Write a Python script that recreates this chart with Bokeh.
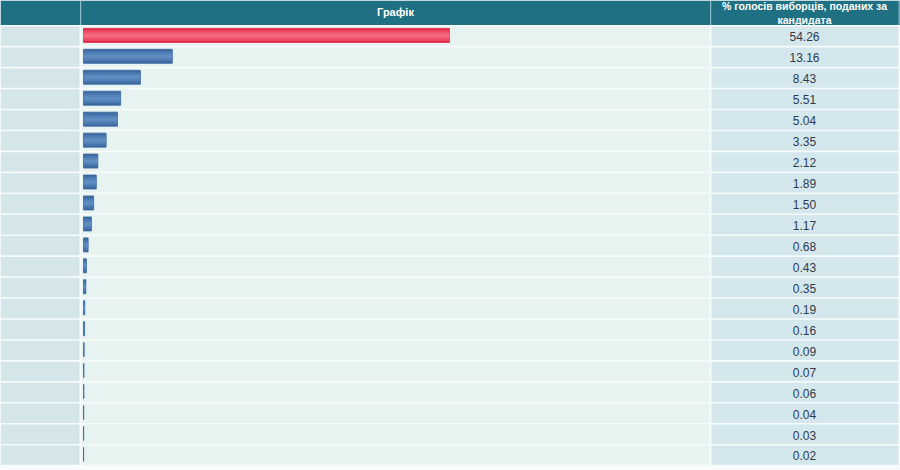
from bokeh.plotting import figure
from bokeh.models import Range1d, ColumnDataSource
from bokeh.core.properties import value
from bokeh.embed import file_html
from bokeh.resources import INLINE

# ---- data ----
percents = [54.26, 13.16, 8.43, 5.51, 5.04, 3.35, 2.12, 1.89, 1.50, 1.17,
            0.68, 0.43, 0.35, 0.19, 0.16, 0.09, 0.07, 0.06, 0.04, 0.03, 0.02]
percent_labels = ["54.26", "13.16", "8.43", "5.51", "5.04", "3.35", "2.12", "1.89",
                  "1.50", "1.17", "0.68", "0.43", "0.35", "0.19", "0.16", "0.09",
                  "0.07", "0.06", "0.04", "0.03", "0.02"]
header_chart = "Графік"
header_pct = ["% голосів виборців, поданих за", "кандидата"]
winner_index = 0

# ---- layout (pixels) ----
W, H = 900, 470
X0 = 83.0            # pixel of bar zero
PX_PER_UNIT = 6.745  # pixels per percentage point
TOP = 26.0           # top of first row
PITCH = 20.95        # row pitch
HEADER_H = 24.5

def dx(px):
    return (px - X0) / PX_PER_UNIT

def dy(px):
    return (px - TOP - PITCH / 2) / PITCH

n = len(percents)
rows = list(range(n))

p = figure(width=W, height=H, output_backend="svg", toolbar_location=None,
           x_range=Range1d(dx(0), dx(W)), y_range=Range1d(dy(H), dy(0)),
           x_axis_location=None, y_axis_location=None, min_border=0)
p.grid.visible = False
p.outline_line_color = None
p.background_fill_color = "#f7fbfb"
p.border_fill_color = "#f7fbfb"

# header
p.quad(left=dx(0), right=dx(W), top=dy(0), bottom=dy(HEADER_H), fill_color="#1f7083", line_color=None)
for xs in (79.5, 709.5, 898):
    p.quad(left=dx(xs), right=dx(xs + 1.2), top=dy(0), bottom=dy(HEADER_H), fill_color="#8fbcc6", line_color=None)

# row cells
gap = 1.6 / PITCH
cols = [(0, 79, "#d5e6eb"), (81, 709, "#e7f3f1"), (711, 898, "#d4e7ec")]
for (l, r, c) in cols:
    p.quad(left=[dx(l)] * n, right=[dx(r)] * n,
           top=[i - 0.5 for i in rows], bottom=[i + 0.5 - gap for i in rows],
           fill_color=c, line_color=None)

# bars with soft gradient bands
bar_off = -1.6 / PITCH
colors_blue = ["#3a679f", "#4775ad", "#5583b9", "#5f8cc1"]
colors_red = ["#e2244a", "#ee4763", "#f25a74", "#f56a82"]
heights = [14 / PITCH, 11 / PITCH, 7 / PITCH, 3 / PITCH]
cols_data = {}
for k in range(4):
    cols_data["c%d" % k] = [colors_red[k] if i == winner_index else colors_blue[k] for i in rows]
src = ColumnDataSource(dict(y=[i + bar_off for i in rows], right=percents, **cols_data))
p.hbar(y="y", left=0, right="right", height=heights[0], fill_color="c0", line_color="c0", line_width=0.8, source=src)
for k in range(1, 4):
    p.hbar(y="y", left=0, right="right", height=heights[k], fill_color="c%d" % k, line_color=None, source=src)

# value labels
p.text(x=[dx(804)] * n, y=rows, text=percent_labels, text_align="center", text_baseline="middle",
       text_font=value("Liberation Sans"), text_font_size="12px", text_color="#2d3b4c")

# header texts
p.text(x=[dx(395)], y=[dy(11)], text=[header_chart], text_align="center", text_baseline="middle",
       text_font=value("Liberation Sans"), text_font_size="11px", text_font_style="bold", text_color="white")
p.text(x=[dx(804), dx(804)], y=[dy(5), dy(19)], text=header_pct, text_align="center", text_baseline="middle",
       text_font=value("Liberation Sans"), text_font_size="10.5px", text_font_style="bold", text_color="white")

open("out.html", "w").write(file_html(p, INLINE))
